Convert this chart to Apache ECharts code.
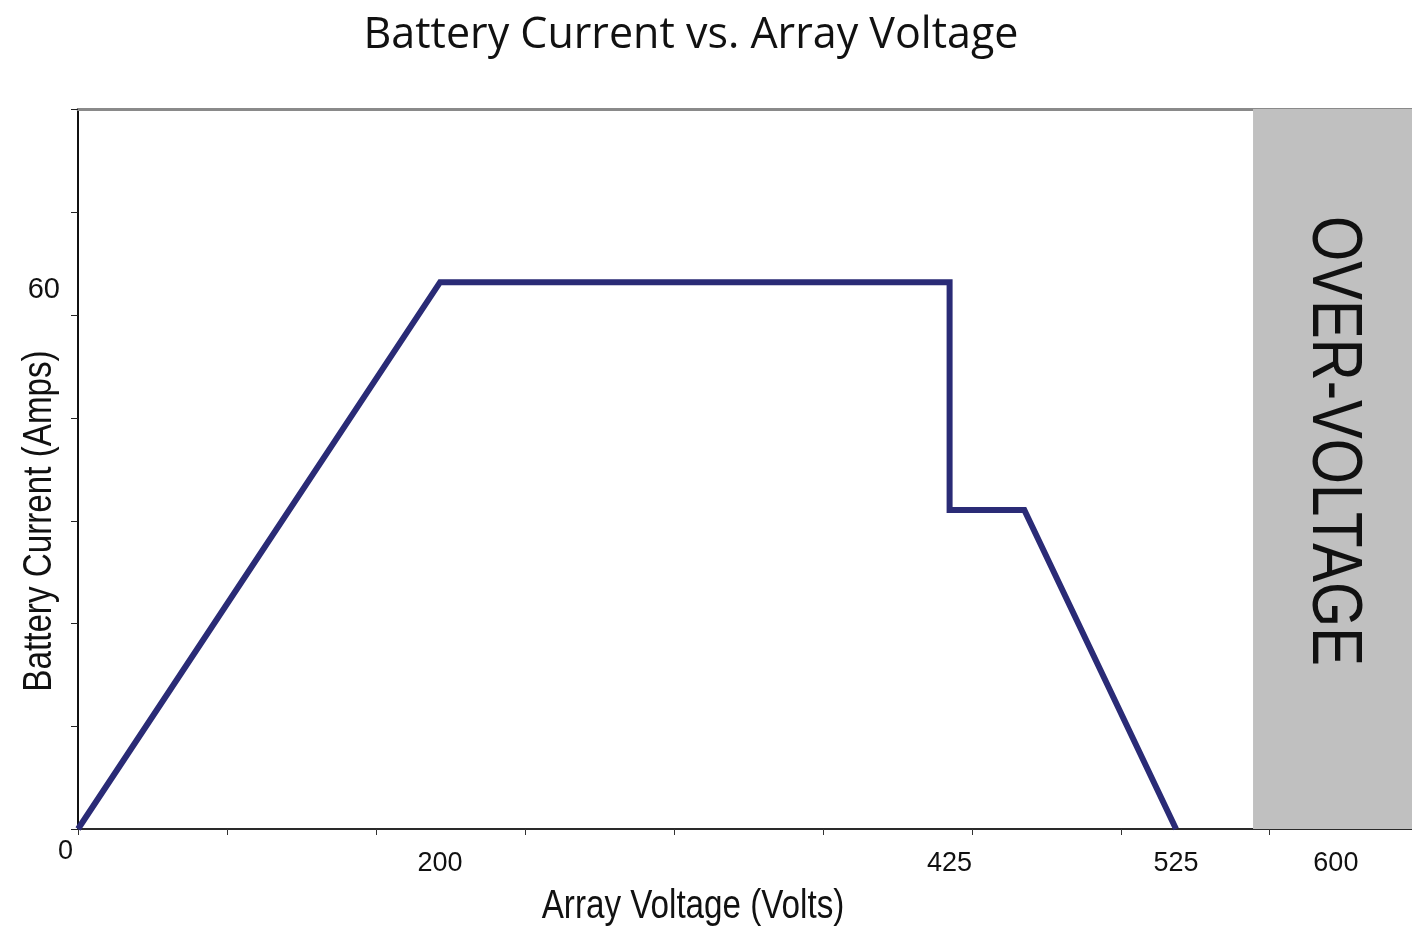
<!DOCTYPE html>
<html>
<head>
<meta charset="utf-8">
<title>Battery Current vs. Array Voltage</title>
<script src="https://cdn.jsdelivr.net/npm/echarts@6.0.0/dist/echarts.min.js"></script>
<style>
  html, body { margin: 0; padding: 0; background: #ffffff; }
  #chart { width: 1412px; height: 935px; }
</style>
</head>
<body>
<div id="chart"></div>
<script>
// Charge-controller output curve: battery current against PV array voltage
const voltage = [0, 200, 425, 425, 458, 525];   // volts
const current = [0, 60, 60, 35, 35, 0];         // amps

// Axis ranges and ticks
const voltRange = [0, 629.2];
const currentRange = [0, 79];
const xLabelValues = [0, 200, 425, 525, 600];
const xTickValues = [0, 66, 172, 237.5, 303.3, 369.1, 434.9, 500.7, 566.3];
const yLabelValues = [60];
const yTickValues = [0, 11.3, 22.6, 33.8, 45.1, 56.4, 67.7, 79];

// Low-voltage stretch drawn compressed on the axis
const compressedVolts = [80, 120.1];

// Shutdown region
const overVoltageStart = 559;
const overVoltageText = 'OVER-VOLTAGE';

const xAxisTitle = 'Array Voltage (Volts)';
const yAxisTitle = 'Battery Current (Amps)';

const SANS = '"Liberation Sans", Arial, Helvetica, sans-serif';

const chart = echarts.init(document.getElementById('chart'), null, { renderer: 'canvas' });

const labelRich = {
  n: { fontFamily: SANS, fontSize: 27, lineHeight: 27, color: '#111', padding: [34, 0, 0, 0] },
  z: { fontFamily: SANS, fontSize: 27, lineHeight: 27, color: '#111', padding: [10, 25, 0, 0] },
  r: { fontFamily: SANS, fontSize: 27, lineHeight: 27, color: '#111', padding: [34, 20, 0, 0] }
};

chart.setOption({
  animation: false,
  backgroundColor: '#ffffff',
  title: {
    text: 'Battery Current vs. Array Voltage',
    left: 686,
    textAlign: 'center',
    top: 9,
    textStyle: { fontFamily: '"Open Sans", sans-serif', fontSize: 43, fontWeight: 'normal', color: '#111' }
  },
  grid: { left: 78, right: 0, top: 109, bottom: 106, containLabel: false, outerBoundsMode: 'none' },
  xAxis: [{
    type: 'value',
    min: voltRange[0],
    max: voltRange[1],
    breaks: [{ start: compressedVolts[0], end: compressedVolts[1], gap: 0 }],
    breakArea: { show: false },
    axisLine: { show: true, onZero: false, lineStyle: { color: '#2a2a2a', width: 2 } },
    axisTick: { show: true, length: 6, customValues: xTickValues, lineStyle: { color: '#333', width: 1 } },
    axisLabel: {
      customValues: xLabelValues,
      margin: 4,
      hideOverlap: false,
      formatter: function (v) {
        if (v === 0) return '{z|0}';
        if (v === 600) return '{r|600}';
        return '{n|' + v + '}';
      },
      rich: labelRich
    },
    splitLine: { show: false }
  }, {
    // plain frame edge along the top of the plot
    type: 'value',
    position: 'top',
    min: 0,
    max: 1,
    axisLine: { show: true, onZero: false, lineStyle: { color: '#8a8a8a', width: 3 } },
    axisTick: { show: false },
    axisLabel: { show: false },
    splitLine: { show: false }
  }],
  yAxis: {
    type: 'value',
    min: currentRange[0],
    max: currentRange[1],
    axisLine: { show: true, onZero: false, lineStyle: { color: '#111', width: 2 } },
    axisTick: { show: true, length: 7, customValues: yTickValues, lineStyle: { color: '#222', width: 1 } },
    axisLabel: {
      customValues: yLabelValues,
      margin: 18,
      formatter: function (v) { return '{a|' + v + '}'; },
      rich: { a: { fontFamily: SANS, fontSize: 29, lineHeight: 29, color: '#111', padding: [16, 0, 0, 0] } }
    },
    splitLine: { show: false }
  },
  series: [{
    type: 'line',
    name: 'Battery Current',
    data: voltage.map(function (v, i) { return [v, current[i]]; }),
    showSymbol: false,
    symbol: 'none',
    lineStyle: { color: '#2a2b76', width: 6, join: 'miter', cap: 'butt' },
    z: 3,
    markArea: {
      silent: true,
      itemStyle: { color: '#c0c0c0', borderWidth: 0 },
      label: { show: false },
      data: [[{ xAxis: overVoltageStart }, { xAxis: voltRange[1] }]]
    }
  }]
});

// Axis titles and the vertical caption inside the over-voltage band
function placeTexts() {
  const rect = chart.getModel().getComponent('grid', 0).coordinateSystem.getRect();
  const a = chart.convertToPixel({ xAxisIndex: 0, yAxisIndex: 0 }, [overVoltageStart, currentRange[1]]);
  const b = chart.convertToPixel({ xAxisIndex: 0, yAxisIndex: 0 }, [voltRange[1], currentRange[0]]);
  const plotMidX = rect.x + rect.width / 2;
  const plotMidY = rect.y + rect.height / 2;
  chart.setOption({
    graphic: [{
      type: 'text',
      id: 'xTitle',
      x: plotMidX - 52,
      y: rect.y + rect.height + 78,
      scaleX: 0.83,
      style: {
        text: xAxisTitle, fontFamily: SANS, fontSize: 40, fill: '#111',
        align: 'center', verticalAlign: 'middle'
      }
    }, {
      type: 'text',
      id: 'yTitle',
      x: rect.x - 38,
      y: plotMidY + 52,
      rotation: Math.PI / 2,
      scaleX: 0.83,
      style: {
        text: yAxisTitle, fontFamily: SANS, fontSize: 40, fill: '#111',
        align: 'center', verticalAlign: 'middle'
      }
    }, {
      type: 'text',
      id: 'ovCaption',
      x: (a[0] + b[0]) / 2,
      y: (a[1] + b[1]) / 2 - 28,
      rotation: -Math.PI / 2,
      scaleX: 0.83,
      z: 10,
      style: {
        text: overVoltageText, fontFamily: SANS, fontSize: 70, fill: '#111',
        align: 'center', verticalAlign: 'middle'
      }
    }]
  });
}
placeTexts();
</script>
</body>
</html>
